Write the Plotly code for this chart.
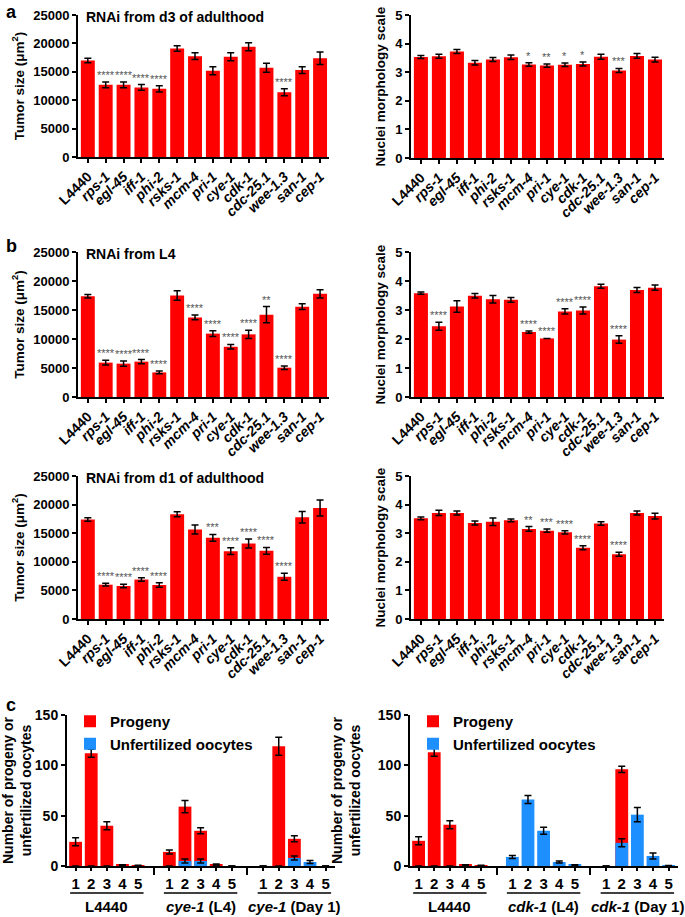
import plotly.graph_objects as go

FW, FH = 685, 917
FONT = "Liberation Sans, Arial, sans-serif"
RED = "#ff0000"
BLUE = "#1e8fff"

# ---------------- data: panels a / b ----------------
genes = ["L4440", "rps-1", "egl-45", "iff-1", "phi-2", "rsks-1", "mcm-4", "pri-1",
         "cye-1", "cdk-1", "cdc-25.1", "wee-1.3", "san-1", "cep-1"]

# a: RNAi from d3 of adulthood
d3_tumor = [17000, 12700, 12700, 12250, 12000, 19100, 17750, 15200, 17650, 19400, 15700, 11400, 15300, 17400]
d3_tumor_err = [400, 500, 500, 500, 550, 500, 600, 700, 700, 700, 800, 600, 600, 1100]
d3_tumor_sig = ["", "****", "****", "****", "****", "", "", "", "", "", "", "****", "", ""]
d3_nuc = [3.53, 3.56, 3.72, 3.33, 3.44, 3.52, 3.27, 3.23, 3.26, 3.29, 3.54, 3.06, 3.57, 3.44]
d3_nuc_err = [0.05, 0.07, 0.07, 0.08, 0.07, 0.08, 0.06, 0.06, 0.06, 0.07, 0.09, 0.07, 0.08, 0.08]
d3_nuc_sig = ["", "", "", "", "", "", "*", "**", "*", "*", "", "***", "", ""]

# b (top): RNAi from L4
l4_tumor = [17380, 5930, 5750, 6100, 4240, 17500, 13720, 10930, 8660, 10800, 14190, 5060, 15580, 17790]
l4_tumor_err = [300, 400, 450, 350, 250, 800, 400, 500, 400, 700, 1400, 300, 500, 700]
l4_tumor_sig = ["", "****", "****", "****", "****", "", "****", "****", "****", "****", "**", "****", "", ""]
l4_nuc = [3.58, 2.44, 3.12, 3.49, 3.37, 3.35, 2.24, 2.02, 2.95, 2.98, 3.82, 1.98, 3.69, 3.77]
l4_nuc_err = [0.04, 0.14, 0.2, 0.08, 0.13, 0.08, 0.04, 0.0, 0.09, 0.12, 0.07, 0.13, 0.09, 0.09]
l4_nuc_sig = ["", "****", "", "", "", "", "****", "****", "****", "****", "", "****", "", ""]

# b (bottom): RNAi from d1 of adulthood
d1_tumor = [17380, 6000, 5770, 6900, 5940, 18310, 15640, 14190, 11860, 13200, 11920, 7380, 17790, 19420]
d1_tumor_err = [300, 250, 300, 300, 400, 450, 800, 600, 600, 800, 600, 600, 1000, 1400]
d1_tumor_sig = ["", "****", "****", "****", "****", "", "", "***", "****", "****", "****", "****", "", ""]
d1_nuc = [3.52, 3.71, 3.71, 3.36, 3.40, 3.45, 3.15, 3.09, 3.03, 2.49, 3.34, 2.26, 3.71, 3.60]
d1_nuc_err = [0.05, 0.09, 0.07, 0.07, 0.13, 0.05, 0.08, 0.06, 0.06, 0.07, 0.06, 0.07, 0.07, 0.10]
d1_nuc_sig = ["", "", "", "", "", "", "**", "***", "****", "****", "", "****", "", ""]

# ---------------- data: panel c ----------------
days = ["1", "2", "3", "4", "5"]
cye_groups = ["L4440", "<i>cye-1</i> (L4)", "<i>cye-1</i> (Day 1)"]
cye_progeny = [24, 112, 40, 1, 0.5, 14, 59, 35, 1.5, 0, 0, 119, 27, 0, 0]
cye_progeny_err = [4, 4, 4, 0.3, 0.2, 2, 6, 3, 0.5, 0, 0, 9, 3, 0, 0]
cye_unfert = [0, 0, 0, 0, 0, 0, 5, 5, 0, 0, 0, 0, 8, 4, 0]
cye_unfert_err = [0, 0, 0, 0, 0, 0, 2, 2, 0, 0, 0, 0, 2, 1.5, 0]

cdk_groups = ["L4440", "<i>cdk-1</i> (L4)", "<i>cdk-1</i> (Day 1)"]
cdk_progeny = [25, 113, 41, 1, 0.5, 0, 0, 0, 0, 0, 0, 96, 0, 0, 0]
cdk_progeny_err = [4, 4, 4, 0.3, 0.2, 0, 0, 0, 0, 0, 0, 3, 0, 0, 0]
cdk_unfert = [0, 0, 0, 0, 0, 9, 66, 35, 4, 1, 0, 23, 51, 10, 0.5]
cdk_unfert_err = [0, 0, 0, 0, 0, 1.5, 4, 3.5, 1, 0.3, 0, 4, 7, 3, 0]


# ---------------- helpers ----------------
def fx(px):
    return px / FW


def fy(py):
    return 1 - py / FH


def px_x(a, b):
    return [fx(a), fx(b)]


def px_y(top, bottom):
    return [fy(bottom), fy(top)]


def nz(errs):
    return [e if e else None for e in errs]


fig = go.Figure()
annotations = []
shapes = []
layout_axes = {}

gene_ticktext = ["<b>L4440</b>"] + [f"<b><i>{g}</i></b>" for g in genes[1:]]


def gene_panel(n, vals, errs, sigs, xdom, ydom, yrange, dtick, ytitle, title=None):
    xs = "" if n == 1 else str(n)
    fig.add_trace(go.Bar(
        x=genes, y=vals, xaxis="x" + xs, yaxis="y" + xs, width=0.78,
        marker=dict(color=RED, line=dict(width=0)), showlegend=False,
        error_y=dict(type="data", array=nz(errs), color="black", thickness=1.5, width=3.5),
    ))
    layout_axes["xaxis" + xs] = dict(
        domain=px_x(*xdom), anchor="y" + xs, type="category",
        range=[-0.55, 13.5], tickvals=genes, ticktext=gene_ticktext, tickangle=-45,
        tickfont=dict(family=FONT, size=14, color="black"),
        showline=True, linecolor="black", linewidth=2, ticks="outside",
        ticklen=4, tickwidth=1.5, tickcolor="black", showgrid=False, zeroline=False,
        automargin=False, ticklabeloverflow="allow",
    )
    layout_axes["yaxis" + xs] = dict(
        domain=px_y(*ydom), anchor="x" + xs, range=yrange, dtick=dtick, tickformat="d",
        tickfont=dict(family=FONT, size=13, color="black", weight="bold"),
        showline=True, linecolor="black", linewidth=2, ticks="outside",
        ticklen=4, tickwidth=1.5, tickcolor="black", showgrid=False, zeroline=False,
        title=dict(text=ytitle, font=dict(family=FONT, size=13.5, color="black", weight="bold"),
                   standoff=6),
        automargin=False, ticklabeloverflow="allow",
    )
    for g, v, e, s in zip(genes, vals, errs, sigs):
        if s:
            annotations.append(dict(
                x=g, y=v + e, xref="x" + xs, yref="y" + xs, text=s, showarrow=False,
                yanchor="bottom", xanchor="center", yshift=-1,
                font=dict(family=FONT, size=11, color="#555"),
            ))
    if title:
        annotations.append(dict(
            x=fx(xdom[0] + 6), y=fy(ydom[0] + 2), xref="paper", yref="paper",
            text=title, showarrow=False, xanchor="left", yanchor="middle",
            font=dict(family=FONT, size=14, color="black", weight="bold"),
        ))


TUMOR = "Tumor size (μm<sup>2</sup>)"
NUC = "Nuclei morphology scale"
LX, RX = (78, 329), (411, 664)

gene_panel(1, d3_tumor, d3_tumor_err, d3_tumor_sig, LX, (15, 157), [0, 25000], 5000, TUMOR,
           "RNAi from d3 of adulthood")
gene_panel(2, d3_nuc, d3_nuc_err, d3_nuc_sig, RX, (15, 158), [0, 5], 1, NUC)
gene_panel(3, l4_tumor, l4_tumor_err, l4_tumor_sig, LX, (252, 397), [0, 25000], 5000, TUMOR,
           "RNAi from L4")
gene_panel(4, l4_nuc, l4_nuc_err, l4_nuc_sig, RX, (252, 397), [0, 5], 1, NUC)
gene_panel(5, d1_tumor, d1_tumor_err, d1_tumor_sig, LX, (476, 619), [0, 25000], 5000, TUMOR,
           "RNAi from d1 of adulthood")
gene_panel(6, d1_nuc, d1_nuc_err, d1_nuc_sig, RX, (476, 619), [0, 5], 1, NUC)


def fert_panel(n, groups, prog, prog_err, unf, unf_err, xdom, ydom, legend_name):
    xs = str(n)
    pos = [gi * 6 + di for gi in range(len(groups)) for di in range(len(days))]
    fig.add_trace(go.Bar(
        x=pos, y=prog, xaxis="x" + xs, yaxis="y" + xs, width=0.82, name="Progeny",
        marker=dict(color=RED, line=dict(width=0)), legend=legend_name,
        error_y=dict(type="data", array=nz(prog_err), color="black", thickness=1.5, width=3.5),
    ))
    fig.add_trace(go.Bar(
        x=pos, y=unf, xaxis="x" + xs, yaxis="y" + xs, width=0.82, name="Unfertilized oocytes",
        marker=dict(color=BLUE, line=dict(width=0)), legend=legend_name,
        error_y=dict(type="data", array=nz(unf_err), color="black", thickness=1.5, width=3.5),
    ))
    seps = [gi * 6 - 1 for gi in range(1, len(groups))]
    layout_axes["xaxis" + xs] = dict(
        domain=px_x(*xdom), anchor="y" + xs, range=[-0.55, 16.6],
        tickvals=pos, ticktext=days * len(groups), tickangle=0,
        tickfont=dict(family=FONT, size=15, color="black", weight="bold"),
        showline=True, linecolor="black", linewidth=2, ticks="outside",
        ticklen=3, tickwidth=1.5, tickcolor="black", showgrid=False, zeroline=False,
        minor=dict(tickvals=seps, ticks="outside", ticklen=7, tickwidth=2, tickcolor="black"),
        automargin=False, ticklabeloverflow="allow",
    )
    layout_axes["yaxis" + xs] = dict(
        domain=px_y(*ydom), anchor="x" + xs, range=[0, 150], tickvals=[0, 50, 100, 150],
        tickfont=dict(family=FONT, size=14, color="black", weight="bold"),
        showline=True, linecolor="black", linewidth=2, ticks="outside",
        ticklen=4, tickwidth=1.5, tickcolor="black", showgrid=False, zeroline=False,
        title=dict(text="Number of progeny or<br>unfertilized oocytes",
                   font=dict(family=FONT, size=14, color="black", weight="bold"), standoff=14),
        automargin=False, ticklabeloverflow="allow",
    )
    for gi, g in enumerate(groups):
        annotations.append(dict(
            x=gi * 6 + 2, y=fy(906), xref="x" + xs, yref="paper", text=g,
            showarrow=False, xanchor="center", yanchor="middle",
            font=dict(family=FONT, size=15, color="black", weight="bold"),
        ))
        shapes.append(dict(
            type="line", xref="x" + xs, yref="paper", x0=gi * 6 - 0.35, x1=gi * 6 + 4.35,
            y0=fy(893), y1=fy(893), line=dict(color="black", width=1.5),
        ))
    return pos


fert_panel(7, cye_groups, cye_progeny, cye_progeny_err, cye_unfert, cye_unfert_err,
           (67, 335), (715, 866), "legend")
fert_panel(8, cdk_groups, cdk_progeny, cdk_progeny_err, cdk_unfert, cdk_unfert_err,
           (410, 678), (715, 866), "legend2")

legend_style = dict(
    font=dict(family=FONT, size=15, color="black", weight="bold"),
    bgcolor="rgba(0,0,0,0)", xanchor="left", yanchor="top",
    tracegroupgap=0, itemsizing="constant", itemwidth=30,
)
layout_legends = dict(
    legend=dict(x=fx(70), y=fy(705), **legend_style),
    legend2=dict(x=fx(413), y=fy(705), **legend_style),
)

for letter, ypx in [("a", 0), ("b", 234), ("c", 693)]:
    annotations.append(dict(
        x=fx(4), y=fy(ypx), xref="paper", yref="paper", text=letter, showarrow=False,
        xanchor="left", yanchor="top",
        font=dict(family=FONT, size=18, color="black", weight="bold"),
    ))

fig.update_layout(
    width=FW, height=FH, margin=dict(l=0, r=0, t=0, b=0),
    paper_bgcolor="white", plot_bgcolor="white",
    barmode="overlay", showlegend=True,
    font=dict(family=FONT, color="black"),
    annotations=annotations, shapes=shapes,
    **layout_axes, **layout_legends,
)

# remove the default 8px body margin of the page so the figure sits at (0, 0)
fig.write_html(
    "out.html",
    config={"displayModeBar": False},
    post_script="document.body.style.margin='0';document.body.style.overflow='hidden';",
)
